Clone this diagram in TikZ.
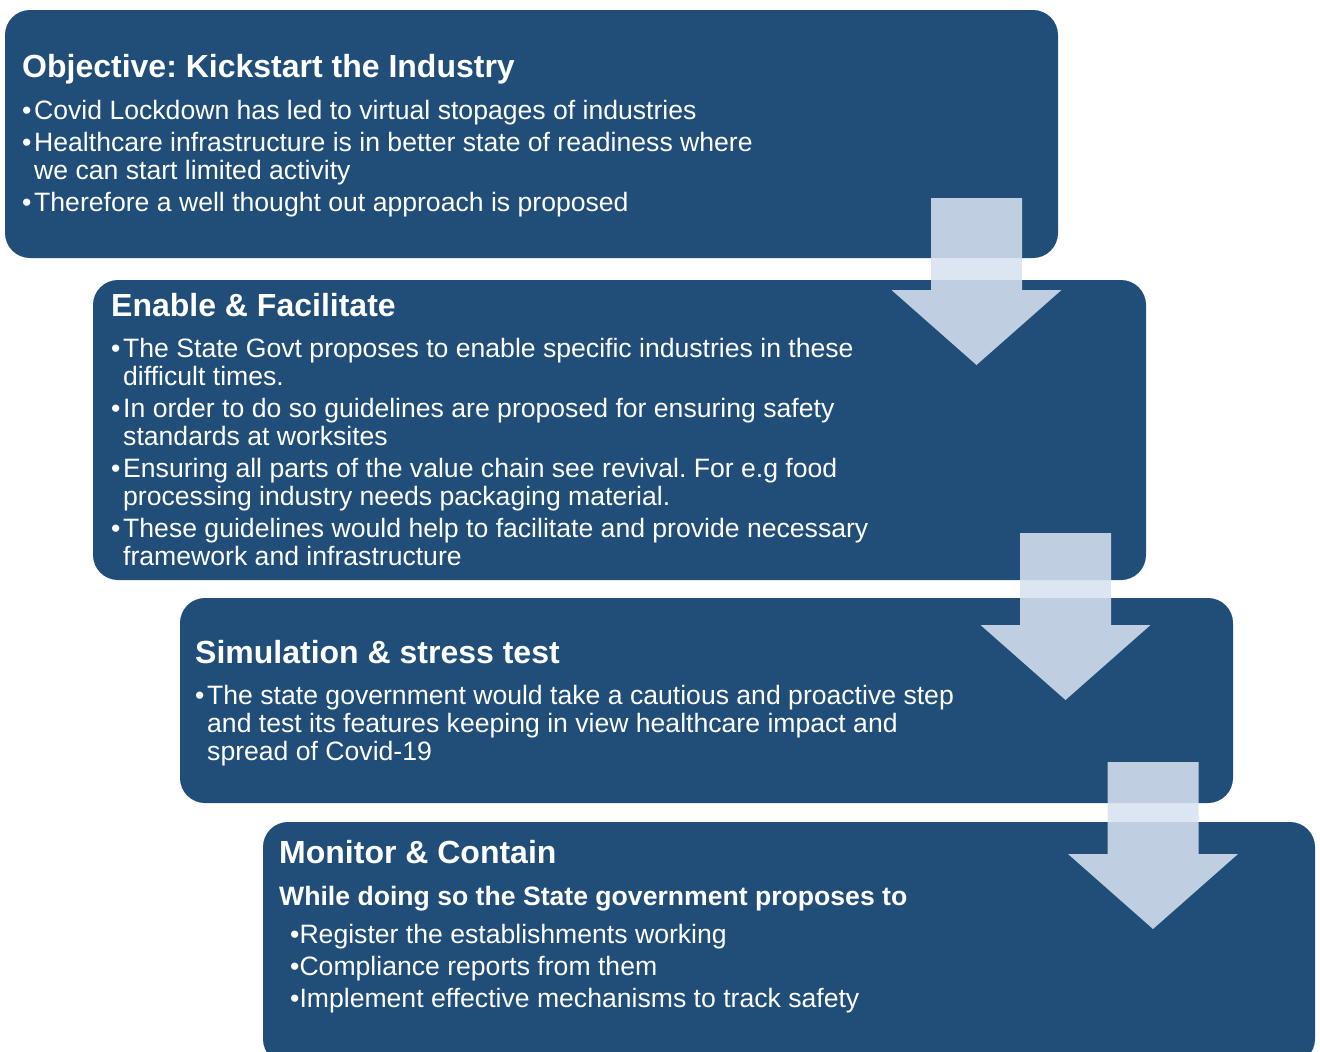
\documentclass[tikz,border=0pt]{standalone}
\usepackage{fontspec}
\setmainfont{Liberation Sans}
\usepackage{tikz}
\frenchspacing

\definecolor{stageblue}{RGB}{32,78,120}
\definecolor{arrowblue}{RGB}{215,226,240}

\tikzset{
  stage/.style={fill=stageblue, rounded corners=25pt},
  heading/.style={anchor=base west, inner sep=0pt, text=white, font=\fontsize{32}{36}\selectfont\bfseries},
  subheading/.style={anchor=base west, inner sep=0pt, text=white, font=\fontsize{26.6}{28}\selectfont\bfseries},
  body/.style={anchor=base west, inner sep=0pt, text=white, align=left, font=\fontsize{26.6}{28}\selectfont},
  downarrow/.style={fill=arrowblue, fill opacity=0.87}
}
\newcommand{\bul}{\makebox[12pt][l]{•}}
\newcommand{\cont}{\hspace*{12pt}}
% #1 = centre x, #2 = top y
\newcommand{\stagearrow}[2]{%
  \fill[downarrow] (#1-45.5,#2) -- (#1+45.5,#2) -- (#1+45.5,#2+92) -- (#1+85,#2+92)
    -- (#1,#2+167) -- (#1-85,#2+92) -- (#1-45.5,#2+92) -- cycle;}

\begin{document}
\begin{tikzpicture}[x=1pt,y=-1pt]
\useasboundingbox (0,0) rectangle (1320,1052);
\clip (0,0) rectangle (1320,1052);

% the four stages
\fill[stage] (5,10) rectangle (1058,258);
\fill[stage] (93,280) rectangle (1146,580);
\fill[stage] (180,598) rectangle (1233,803);
\fill[stage] (263,822) rectangle (1315,1064);

% stage 1 (body nodes sit on the baseline of their last line)
\node[heading] (objective) at (22,77) {Objective: Kickstart the Industry};
\node[body] (objectivetxt) at (22,211) {\bul Covid Lockdown has led to virtual stopages of industries\\[4pt]
  \bul Healthcare infrastructure is in better state of readiness where\\
  \cont we can start limited activity\\[4pt]
  \bul Therefore a well thought out approach is proposed};

% stage 2
\node[heading] (enable) at (111,316) {Enable \& Facilitate};
\node[body] (enabletxt) at (111,565) {\bul The State Govt proposes to enable specific industries in these\\
  \cont difficult times.\\[4pt]
  \bul In order to do so guidelines are proposed for ensuring safety\\
  \cont standards at worksites\\[4pt]
  \bul Ensuring all parts of the value chain see revival. For e.g food\\
  \cont processing industry needs packaging material.\\[4pt]
  \bul These guidelines would help to facilitate and provide necessary\\
  \cont framework and infrastructure};

% stage 3
\node[heading] (simulation) at (195,663) {Simulation \& stress test};
\node[body] (simulationtxt) at (195,760) {\bul The state government would take a cautious and proactive step\\
  \cont and test its features keeping in view healthcare impact and\\
  \cont spread of Covid-19};

% stage 4
\node[heading] (monitor) at (279,863) {Monitor \& Contain};
\node[subheading] (monitorsub) at (279,905) {While doing so the State government proposes to};
\node[body, font=\fontsize{26.6}{32}\selectfont] (monitortxt) at (290,1007) {•Register the establishments working\\
  •Compliance reports from them\\
  •Implement effective mechanisms to track safety};

% arrows between stages
\stagearrow{976.5}{198}
\stagearrow{1065.5}{533}
\stagearrow{1153}{762}
\end{tikzpicture}
\end{document}
